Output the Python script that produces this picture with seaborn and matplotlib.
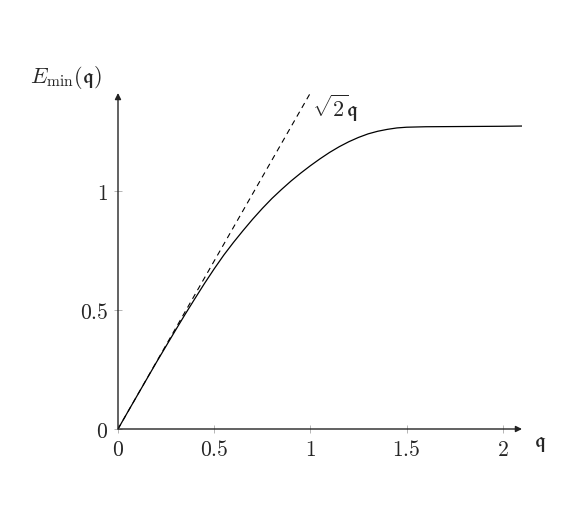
import matplotlib
matplotlib.use("Agg")
import matplotlib.pyplot as plt
import numpy as np
import pandas as pd
import seaborn as sns

# %% data
q_vals = [0.0, 0.05, 0.1, 0.15, 0.2, 0.25, 0.3, 0.35, 0.4, 0.45, 0.5,
          0.55, 0.6, 0.65, 0.7, 0.75, 0.8, 0.85, 0.9, 0.95, 1.0,
          1.05, 1.1, 1.15, 1.2, 1.25, 1.3, 1.35, 1.4, 1.45, 1.5,
          1.55, 1.6, 1.8, 2.0, 2.1]
e_min = [0.0, 0.0707, 0.141, 0.211, 0.281, 0.349, 0.417, 0.484, 0.549, 0.613, 0.674,
         0.732, 0.785, 0.835, 0.883, 0.928, 0.970, 1.008, 1.044, 1.077, 1.108,
         1.137, 1.164, 1.188, 1.209, 1.227, 1.242, 1.253, 1.261, 1.267, 1.270,
         1.271, 1.272, 1.273, 1.274, 1.275]
q_line = [0.0, 1.0]
sqrt2_line = [0.0, np.sqrt(2)]

x_ticks = [0, 0.5, 1, 1.5, 2]
x_labels = ["0", "0.5", "1", "1.5", "2"]
y_ticks = [0, 0.5, 1]
y_labels = ["0", "0.5", "1"]

df = pd.DataFrame({"q": q_vals, "E": e_min})
df_line = pd.DataFrame({"q": q_line, "E": sqrt2_line})

# %% style
sns.set_style("white")
plt.rcParams["mathtext.fontset"] = "cm"
plt.rcParams["font.family"] = ["DejaVu Serif"]

fig = plt.figure(figsize=(5.82, 5.21), dpi=100)
ax = fig.add_axes([118 / 582, 92 / 521, 404 / 582, 336 / 521])

sns.lineplot(data=df, x="q", y="E", color="black", linewidth=0.9, ax=ax)
sns.lineplot(data=df_line, x="q", y="E", color="black", linewidth=0.8,
             linestyle=(0, (5, 4)), ax=ax)

ax.set_xlim(0, 2.1)
ax.set_ylim(0, 1.414)

# axis lines with arrow heads
for s in ax.spines.values():
    s.set_visible(False)
arrow = dict(arrowstyle="-|>", color="#222222", lw=1.0, mutation_scale=9,
             shrinkA=0, shrinkB=0)
ax.annotate("", xy=(1.0, 0), xytext=(0, 0), xycoords="axes fraction",
            arrowprops=arrow, annotation_clip=False)
ax.annotate("", xy=(0, 1.0), xytext=(0, 0), xycoords="axes fraction",
            arrowprops=arrow, annotation_clip=False)

ax.set_xticks(x_ticks)
ax.set_xticklabels(["$" + t + "$" for t in x_labels])
ax.set_yticks(y_ticks)
ax.set_yticklabels(["$" + t + "$" for t in y_labels])
ax.tick_params(direction="inout", length=6, width=0.6, color="#aaaaaa",
               labelsize=15.5, pad=4, bottom=True, left=True)

ax.set_xlabel("")
ax.set_ylabel("")
ax.text(2.16, -0.06, r"$\mathfrak{q}$", fontsize=16, ha="left", va="center")
ax.text(-0.46, 1.48, r"$E_{\min}(\mathfrak{q})$", fontsize=16,
        ha="left", va="center", clip_on=False)
ax.text(1.01, 1.35, r"$\sqrt{2}\mathfrak{q}$", fontsize=16, ha="left",
        va="center")

fig.savefig("out.png", dpi=100)
